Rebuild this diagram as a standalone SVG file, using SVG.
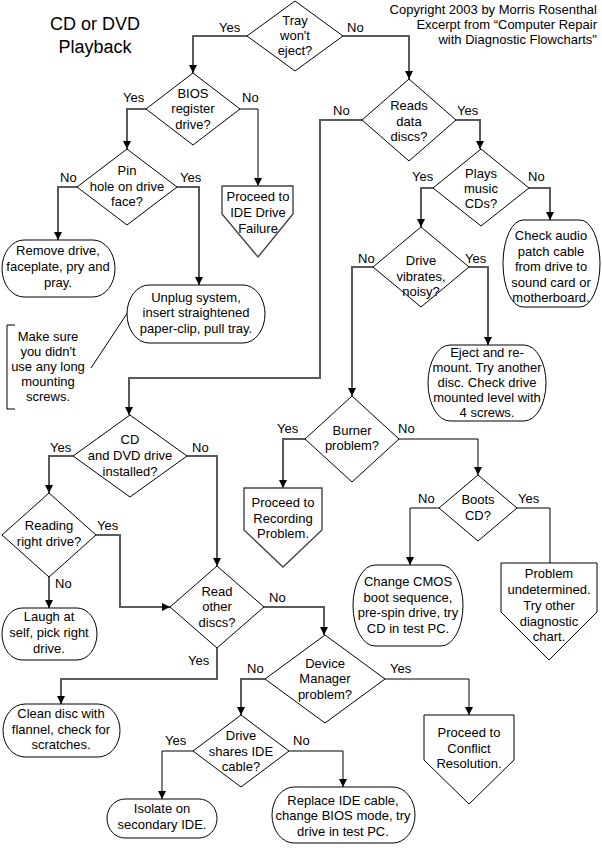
<svg xmlns="http://www.w3.org/2000/svg" width="602" height="848" viewBox="0 0 602 848">
<defs>
<marker id="ah" markerUnits="userSpaceOnUse" markerWidth="10" markerHeight="10" viewBox="0 0 10 10" refX="8" refY="5" orient="auto">
<path d="M0,1 L8,5 L0,9 Z" fill="#000"/>
</marker>
</defs>
<style>
text{font-family:"Liberation Sans",Arial,sans-serif;font-size:13px;fill:#000}
.c{text-anchor:middle}
.r{text-anchor:end}
.ttl{font-size:18px}
.sh{fill:#fff;stroke:#000;stroke-width:1}
.pg{fill:#fff;stroke:#444;stroke-width:1.4}
.k{fill:none;stroke:#5a5a5a;stroke-width:2}
.t{fill:none;stroke:#000;stroke-width:1}
.a{marker-end:url(#ah)}
</style>
<rect width="602" height="848" fill="#fff"/>

<g id="title">
<text class="c ttl" x="95" y="30">CD or DVD</text>
<text class="c ttl" x="95" y="53">Playback</text>
</g>
<g id="copyright">
<text class="r" x="597" y="14">Copyright 2003 by Morris Rosenthal</text>
<text class="r" x="597" y="29">Excerpt from “Computer Repair</text>
<text class="r" x="597" y="44">with Diagnostic Flowcharts"</text>
</g>

<g id="connectors">
<path class="k a" d="M248,36 H193 V73"/>
<path class="k a" d="M343,36 H409 V79"/>
<path class="k a" d="M146,109 H127 V149"/>
<path class="t a" d="M240,109 H258 V186"/>
<path class="k a" d="M77,187 H58 V240"/>
<path class="k a" d="M177,187 H199 V285"/>
<path class="k a" d="M362,120 H320 V378 H129 V415"/>
<path class="k a" d="M456,120 H480 V149"/>
<path class="k a" d="M433,188 H421 V227"/>
<path class="k a" d="M529,188 H550 V220"/>
<path class="k a" d="M373,267 H352 V396"/>
<path class="k a" d="M469,267 H488 V345"/>
<path class="k a" d="M305,439 H283 V488"/>
<path class="t a" d="M399,439 H478 V475"/>
<path class="t a" d="M439,508 H410 V565"/>
<path class="t" d="M517,508 H550 V563"/>
<path class="k a" d="M73,456 H49 V493"/>
<path class="k a" d="M187,456 H217 V566"/>
<path class="k a" d="M96,535 H120 V607 H170"/>
<path class="k a" d="M49,577 V608"/>
<path class="k a" d="M264,607 H324 V635"/>
<path class="k a" d="M217,648 V679 H61 V704"/>
<path class="k a" d="M265,679 H241 V715"/>
<path class="t a" d="M385,679 H469 V715"/>
<path class="t a" d="M193,751 H162 V799"/>
<path class="t a" d="M289,751 H343 V787"/>
<path class="t" d="M128,312 L91,368"/>
</g>

<g id="labels">
<text x="219" y="32">Yes</text><text x="347" y="32">No</text>
<text x="123" y="102">Yes</text><text x="242" y="102">No</text>
<text x="60" y="182">No</text><text x="180" y="182">Yes</text>
<text x="333" y="115">No</text><text x="457" y="115">Yes</text>
<text x="412" y="181">Yes</text><text x="528" y="181">No</text>
<text x="358" y="263">No</text><text x="465" y="263">Yes</text>
<text x="277" y="433">Yes</text><text x="398" y="433">No</text>
<text x="418" y="503">No</text><text x="518" y="503">Yes</text>
<text x="50" y="452">Yes</text><text x="192" y="452">No</text>
<text x="97" y="530">Yes</text><text x="55" y="588">No</text>
<text x="269" y="602">No</text><text x="188" y="665">Yes</text>
<text x="247" y="673">No</text><text x="390" y="673">Yes</text>
<text x="165" y="745">Yes</text><text x="293" y="745">No</text>
</g>

<g id="tray">
<polygon class="sh" points="295,1 343,36 295,71 247,36"/>
<text class="c" x="295" y="25">Tray</text><text class="c" x="295" y="40">won't</text><text class="c" x="295" y="55">eject?</text>
</g>
<g id="bios">
<polygon class="sh" points="193,73 240,109 193,145 146,109"/>
<text class="c" x="193" y="98">BIOS</text><text class="c" x="193" y="113">register</text><text class="c" x="193" y="129">drive?</text>
</g>
<g id="pin">
<polygon class="sh" points="127,149 177,187 127,225 77,187"/>
<text class="c" x="127" y="175">Pin</text><text class="c" x="127" y="191">hole on drive</text><text class="c" x="127" y="206">face?</text>
</g>
<g id="remove">
<rect class="sh" x="2" y="240" width="113" height="57" rx="22" ry="28.5"/>
<text class="c" x="58" y="255">Remove drive,</text><text class="c" x="58" y="271">faceplate, pry and</text><text class="c" x="58" y="287">pray.</text>
</g>
<g id="unplug">
<rect class="sh" x="127" y="285" width="138" height="58" rx="22" ry="29"/>
<text class="c" x="196" y="302">Unplug system,</text><text class="c" x="196" y="317">insert straightened</text><text class="c" x="196" y="333">paper-clip, pull tray.</text>
</g>
<g id="ide">
<polygon class="pg" points="222,186 293,186 293,214 258,257 222,214"/>
<text class="c" x="258" y="201">Proceed to</text><text class="c" x="258" y="217">IDE Drive</text><text class="c" x="258" y="233">Failure</text>
</g>
<g id="note">
<path class="t" d="M15,325 H7 V409 H15"/>
<text class="c" x="48" y="341">Make sure</text><text class="c" x="48" y="356">you didn't</text><text class="c" x="48" y="371">use any long</text><text class="c" x="48" y="386">mounting</text><text class="c" x="48" y="401">screws.</text>
</g>
<g id="reads">
<polygon class="sh" points="409,79 456,120 409,161 362,120"/>
<text class="c" x="409" y="110">Reads</text><text class="c" x="409" y="126">data</text><text class="c" x="409" y="141">discs?</text>
</g>
<g id="plays">
<polygon class="sh" points="481,149 529,188 481,226 433,188"/>
<text class="c" x="481" y="178">Plays</text><text class="c" x="481" y="193">music</text><text class="c" x="481" y="208">CDs?</text>
</g>
<g id="audio">
<rect class="sh" x="503" y="220" width="97" height="87" rx="20" ry="43.5"/>
<text class="c" x="551" y="240">Check audio</text><text class="c" x="551" y="256">patch cable</text><text class="c" x="551" y="271">from drive to</text><text class="c" x="551" y="287">sound card or</text><text class="c" x="551" y="302">motherboard.</text>
</g>
<g id="vibrates">
<polygon class="sh" points="421,227 469,267 421,307 373,267"/>
<text class="c" x="421" y="265">Drive</text><text class="c" x="421" y="281">vibrates,</text><text class="c" x="421" y="296">noisy?</text>
</g>
<g id="eject">
<rect class="sh" x="428" y="345" width="118" height="76" rx="22" ry="38"/>
<text class="c" x="487" y="357">Eject and re-</text><text class="c" x="487" y="372">mount. Try another</text><text class="c" x="487" y="387">disc. Check drive</text><text class="c" x="487" y="402">mounted level with</text><text class="c" x="487" y="417">4 screws.</text>
</g>
<g id="burner">
<polygon class="sh" points="352,396 399,439 352,482 305,439"/>
<text class="c" x="352" y="435">Burner</text><text class="c" x="352" y="450">problem?</text>
</g>
<g id="recording">
<polygon class="pg" points="244,488 322,488 322,530 283,567 244,530"/>
<text class="c" x="283" y="507">Proceed to</text><text class="c" x="283" y="523">Recording</text><text class="c" x="283" y="538">Problem.</text>
</g>
<g id="boots">
<polygon class="sh" points="478,475 517,508 478,541 439,508"/>
<text class="c" x="478" y="504">Boots</text><text class="c" x="478" y="520">CD?</text>
</g>
<g id="cmos">
<rect class="sh" x="353" y="565" width="110" height="81" rx="22" ry="40.5"/>
<text class="c" x="408" y="586">Change CMOS</text><text class="c" x="408" y="602">boot sequence,</text><text class="c" x="408" y="617">pre-spin drive, try</text><text class="c" x="408" y="633">CD in test PC.</text>
</g>
<g id="undetermined">
<polygon class="sh" points="501,563 597,563 597,612 549,660 501,612"/>
<text class="c" x="549" y="578">Problem</text><text class="c" x="549" y="594">undetermined.</text><text class="c" x="549" y="610">Try other</text><text class="c" x="549" y="626">diagnostic</text><text class="c" x="549" y="641">chart.</text>
</g>
<g id="cddvd">
<polygon class="sh" points="130,415 187,456 130,497 73,456"/>
<text class="c" x="130" y="444">CD</text><text class="c" x="130" y="460">and DVD drive</text><text class="c" x="130" y="476">installed?</text>
</g>
<g id="reading">
<polygon class="sh" points="49,493 96,535 49,577 2,535"/>
<text class="c" x="49" y="530">Reading</text><text class="c" x="49" y="546">right drive?</text>
</g>
<g id="laugh">
<rect class="sh" x="2" y="608" width="95" height="52" rx="20" ry="26"/>
<text class="c" x="49" y="621">Laugh at</text><text class="c" x="49" y="637">self, pick right</text><text class="c" x="49" y="653">drive.</text>
</g>
<g id="readother">
<polygon class="sh" points="217,566 264,607 217,648 170,607"/>
<text class="c" x="217" y="596">Read</text><text class="c" x="217" y="611">other</text><text class="c" x="217" y="627">discs?</text>
</g>
<g id="devmgr">
<polygon class="sh" points="325,635 385,679 325,723 265,679"/>
<text class="c" x="325" y="668">Device</text><text class="c" x="325" y="683">Manager</text><text class="c" x="325" y="699">problem?</text>
</g>
<g id="clean">
<rect class="sh" x="3" y="704" width="117" height="53" rx="22" ry="26.5"/>
<text class="c" x="61" y="718">Clean disc with</text><text class="c" x="61" y="734">flannel, check for</text><text class="c" x="61" y="749">scratches.</text>
</g>
<g id="shares">
<polygon class="sh" points="241,715 289,751 241,787 193,751"/>
<text class="c" x="241" y="740">Drive</text><text class="c" x="241" y="756">shares IDE</text><text class="c" x="241" y="771">cable?</text>
</g>
<g id="conflict">
<polygon class="sh" points="424,715 514,715 514,760 469,804 424,760"/>
<text class="c" x="469" y="737">Proceed to</text><text class="c" x="469" y="753">Conflict</text><text class="c" x="469" y="768">Resolution.</text>
</g>
<g id="isolate">
<rect class="sh" x="107" y="799" width="110" height="39" rx="18" ry="19.5"/>
<text class="c" x="162" y="813">Isolate on</text><text class="c" x="162" y="829">secondary IDE.</text>
</g>
<g id="replace">
<rect class="sh" x="272" y="787" width="143" height="56" rx="22" ry="28"/>
<text class="c" x="343" y="805">Replace IDE cable,</text><text class="c" x="343" y="820">change BIOS mode, try</text><text class="c" x="343" y="836">drive in test PC.</text>
</g>
</svg>
